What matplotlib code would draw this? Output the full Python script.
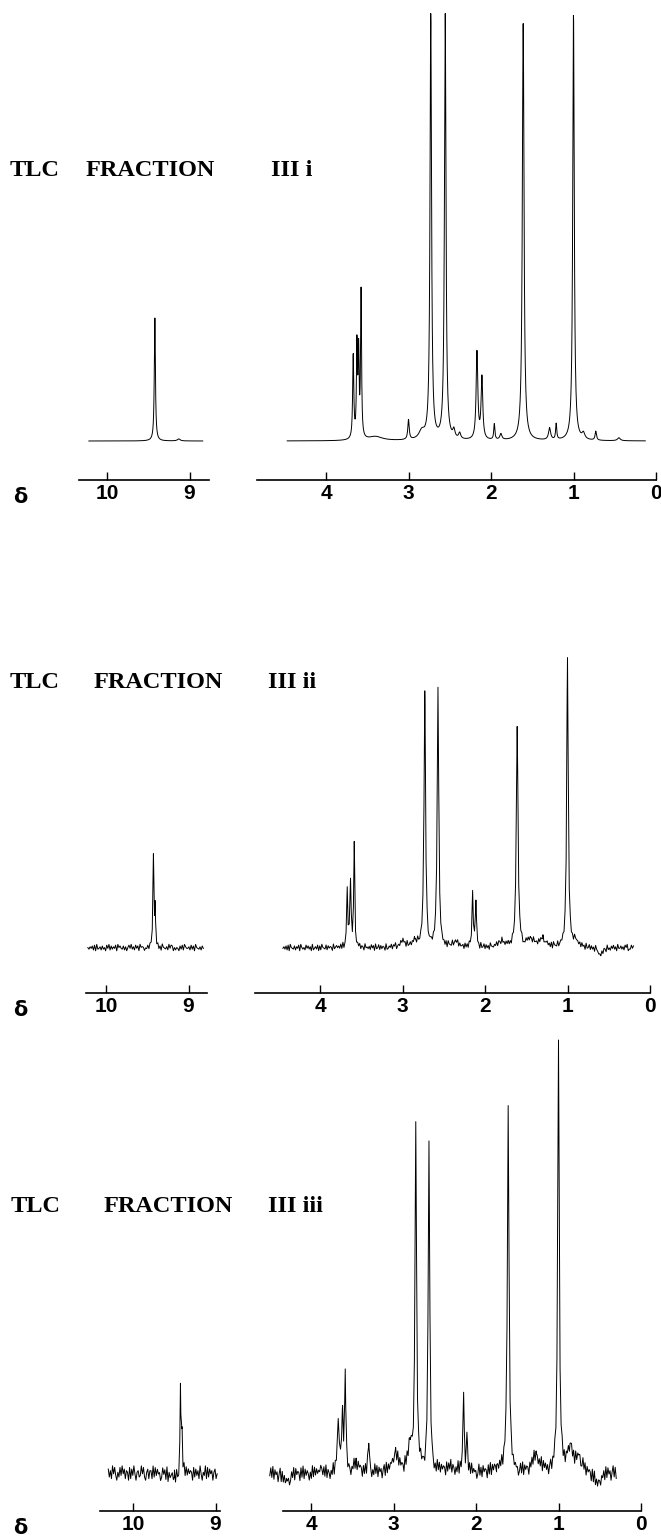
import numpy as np
import matplotlib.pyplot as plt

plt.rcParams['font.family'] = ['Liberation Sans', 'DejaVu Sans']

# ---- spectrum data: peak position (ppm), height (px above baseline), half width (ppm)
# fraction III i
i_left_pos = [9.42, 9.13]
i_left_hgt = [123, 2]
i_left_wid = [0.008, 0.02]
i_right_pos = [3.67, 3.625, 3.605, 3.575, 3.4, 3.0, 2.84, 2.73, 2.555, 2.45, 2.38,
               2.17, 2.11, 1.96, 1.88, 1.61, 1.29, 1.21, 1.0, 0.88, 0.73, 0.45]
i_right_hgt = [84, 92, 85, 146, 4, 20, 8, 426, 426, 8, 6,
               88, 62, 16, 6, 421, 12, 16, 428, 6, 9, 3]
i_right_wid = [0.008, 0.007, 0.007, 0.007, 0.1, 0.01, 0.04, 0.011, 0.011, 0.015, 0.015,
               0.012, 0.012, 0.008, 0.015, 0.012, 0.015, 0.008, 0.011, 0.02, 0.01, 0.02]

# fraction III ii
ii_left_pos = [9.425, 9.405]
ii_left_hgt = [91, 40]
ii_left_wid = [0.006, 0.006]
ii_right_pos = [3.67, 3.63, 3.585, 3.0, 2.85, 2.73, 2.57, 2.35, 2.15, 2.11,
                1.8, 1.61, 1.45, 1.3, 1.0, 0.9, 0.6]
ii_right_hgt = [58, 65, 104, 6, 6, 255, 259, 5, 55, 45,
                6, 220, 8, 8, 289, 6, -8]
ii_right_wid = [0.008, 0.008, 0.007, 0.04, 0.04, 0.011, 0.011, 0.05, 0.008, 0.008,
                0.05, 0.012, 0.05, 0.05, 0.011, 0.04, 0.03]

# fraction III iii
iii_left_pos = [9.425, 9.405, 9.5]
iii_left_hgt = [88, 40, -5]
iii_left_wid = [0.006, 0.006, 0.05]
iii_right_pos = [4.3, 3.67, 3.62, 3.585, 3.45, 3.30, 2.98, 2.8, 2.73, 2.57, 2.3,
                 2.15, 2.11, 1.75, 1.61, 1.27, 1.0, 0.86, 0.75, 0.53]
iii_right_hgt = [-8, 50, 56, 96, 8, 28, 20, 25, 345, 329, 5,
                 77, 36, 5, 366, 18, 430, 25, 15, -12]
iii_right_wid = [0.05, 0.012, 0.012, 0.008, 0.05, 0.01, 0.04, 0.03, 0.011, 0.011, 0.1,
                 0.008, 0.008, 0.05, 0.012, 0.05, 0.011, 0.04, 0.04, 0.04]

# baseline noise read as digit levels (0..9)
ii_left_noise = ("5364728193 4627351849 2736481957 4372615849 3628471956 "
                 "5143728695 4738261954 3629487152 5417382964 4628371954 36274")
ii_right_noise = ("4637281954 3726481953 5284736192 4638172954 3827465193 "
                  "5746382914 4629173852 3748265194 5362847193 4827365192 "
                  "3648275914 5273846193 4726385194 3847265913 5628374195 "
                  "4736281954 3925748163 4618372954 5372846193 4827361954 "
                  "3648275193 5274836194 4736285913 3847265194 5628374913 "
                  "4736281954 3925748163 4618372954 5372846193 4827361954 "
                  "3648275193 5274836194 4736285913 3847")
iii_left_noise = ("7261948305 2839471650 8173940562 3948205716 6192837450 "
                  "2847190635 7391820465 1928374650 8273619405 3918274605 714")
iii_right_noise = ("3829174605 9182736450 2739184650 8291736405 1928374659 "
                   "7382916405 2918473650 8173926405 3928174650 7281936405 "
                   "2938174605 8192736450 3719284650 9281736405 2817394650 "
                   "7392816405 1938274650 8273916405 2918374605 7182936450 "
                   "3927184650 8291736405 2739184605 9182736450 3829174650 "
                   "7382916405 2918473605 8173926450 3928174605 7281936450 "
                   "2938174650 8192736405 3719284605 9281")

# tick labels
left_ticks = [10, 9]
right_ticks = [4, 3, 2, 1, 0]
titles = ["III i", "III ii", "III iii"]

# ---- layout (pixels in the 661 x 1538 picture)
W, H = 661, 1538
S = 82.5  # px per ppm
axis_y = [480, 993, 1511]
base_y = [441, 948, 1473]
top_y = [0, 500, 1015]
label_y = [170, 683, 1207]
left_x10 = [107, 106, 133]
right_x4 = [326, 320, 311]
left_span = [(10.22, 8.84), (10.22, 8.82), (10.30, 8.98)]
right_span = [(4.47, 0.13), (4.45, 0.20), (4.50, 0.30)]
left_line = [(10.34, 8.76), (10.24, 8.77), (10.40, 8.95)]
right_line = [(4.84, 0.0), (4.79, 0.0), (4.34, 0.0)]
tlc_cx = [35, 35, 36]
frac_cx = [150, 158, 168]
roman_cx = [292, 292, 295]
noise_amp = [0.0, 0.8, 1.6]

sections = [
    [(i_left_pos, i_left_hgt, i_left_wid, None), (i_right_pos, i_right_hgt, i_right_wid, None)],
    [(ii_left_pos, ii_left_hgt, ii_left_wid, ii_left_noise),
     (ii_right_pos, ii_right_hgt, ii_right_wid, ii_right_noise)],
    [(iii_left_pos, iii_left_hgt, iii_left_wid, iii_left_noise),
     (iii_right_pos, iii_right_hgt, iii_right_wid, iii_right_noise)],
]


def lorentz_sum(x, pos, hgt, wid):
    y = np.zeros_like(x)
    for p, h, w in zip(pos, hgt, wid):
        y = y + h / (1 + ((x - p) / w) ** 2)
    return y


def trace(span, pos, hgt, wid, noise, amp):
    hi, lo = span
    if noise is None:
        x = np.linspace(hi, lo, 1800)
        return x, lorentz_sum(x, pos, hgt, wid)
    digits = np.array([int(c) for c in noise.replace(' ', '')], dtype=float)
    grid = np.linspace(hi, lo, len(digits))
    centers = np.array([p for p in pos if lo < p < hi])
    x = np.concatenate([grid, centers])
    jit = np.concatenate([(digits - 4.5) * amp, np.zeros(len(centers))])
    order = np.argsort(-x)
    x, jit = x[order], jit[order]
    return x, lorentz_sum(x, pos, hgt, wid) + jit


def section_axes(fig, x_ref, d_ref, lim, k):
    hi, lo = lim
    left = x_ref - (hi - d_ref) * S
    width = (hi - lo) * S
    bottom = H - axis_y[k]
    height = axis_y[k] - top_y[k]
    ax = fig.add_axes([left / W, bottom / H, width / W, height / H])
    ax.set_xlim(hi, lo)
    ax.set_ylim(0, height)
    for side in ['top', 'left', 'right']:
        ax.spines[side].set_visible(False)
    ax.set_yticks([])
    ax.patch.set_alpha(0)
    return ax


fig = plt.figure(figsize=(W / 100, H / 100), dpi=100)
bg = fig.add_axes([0, 0, 1, 1])
bg.set_xlim(0, W)
bg.set_ylim(H, 0)
bg.axis('off')

for k in range(3):
    off = axis_y[k] - base_y[k]
    specs = [(left_x10[k], 10, (10.5, 8.6), left_span[k], left_line[k], left_ticks),
             (right_x4[k], 4, (5.0, -0.2), right_span[k], right_line[k], right_ticks)]
    for (x_ref, d_ref, lim, span, line, ticks), (pos, hgt, wid, noise) in zip(specs, sections[k]):
        ax = section_axes(fig, x_ref, d_ref, lim, k)
        x, y = trace(span, pos, hgt, wid, noise, noise_amp[k])
        ax.plot(x, y + off, color='black', lw=0.7)
        ax.spines['bottom'].set_bounds(line[1], line[0])
        ax.spines['bottom'].set_linewidth(1.2)
        ax.set_xticks(ticks)
        ax.set_xticklabels([str(t) for t in ticks], fontsize=15, fontweight='bold')
        ax.tick_params(axis='x', direction='in', length=6, width=1.0, pad=3)

    bg.text(20, axis_y[k] + 17, 'δ', fontsize=15, fontweight='bold',
            ha='center', va='center', family=['DejaVu Sans'])
    serif = ['Liberation Serif', 'DejaVu Serif']
    bg.text(tlc_cx[k], label_y[k], 'TLC', fontsize=17.5, fontweight='bold',
            family=serif, ha='center', va='center')
    bg.text(frac_cx[k], label_y[k], 'FRACTION', fontsize=17.5, fontweight='bold',
            family=serif, ha='center', va='center')
    bg.text(roman_cx[k], label_y[k], titles[k], fontsize=17.5, fontweight='bold',
            family=serif, ha='center', va='center')

fig.savefig('out.png', dpi=100)
